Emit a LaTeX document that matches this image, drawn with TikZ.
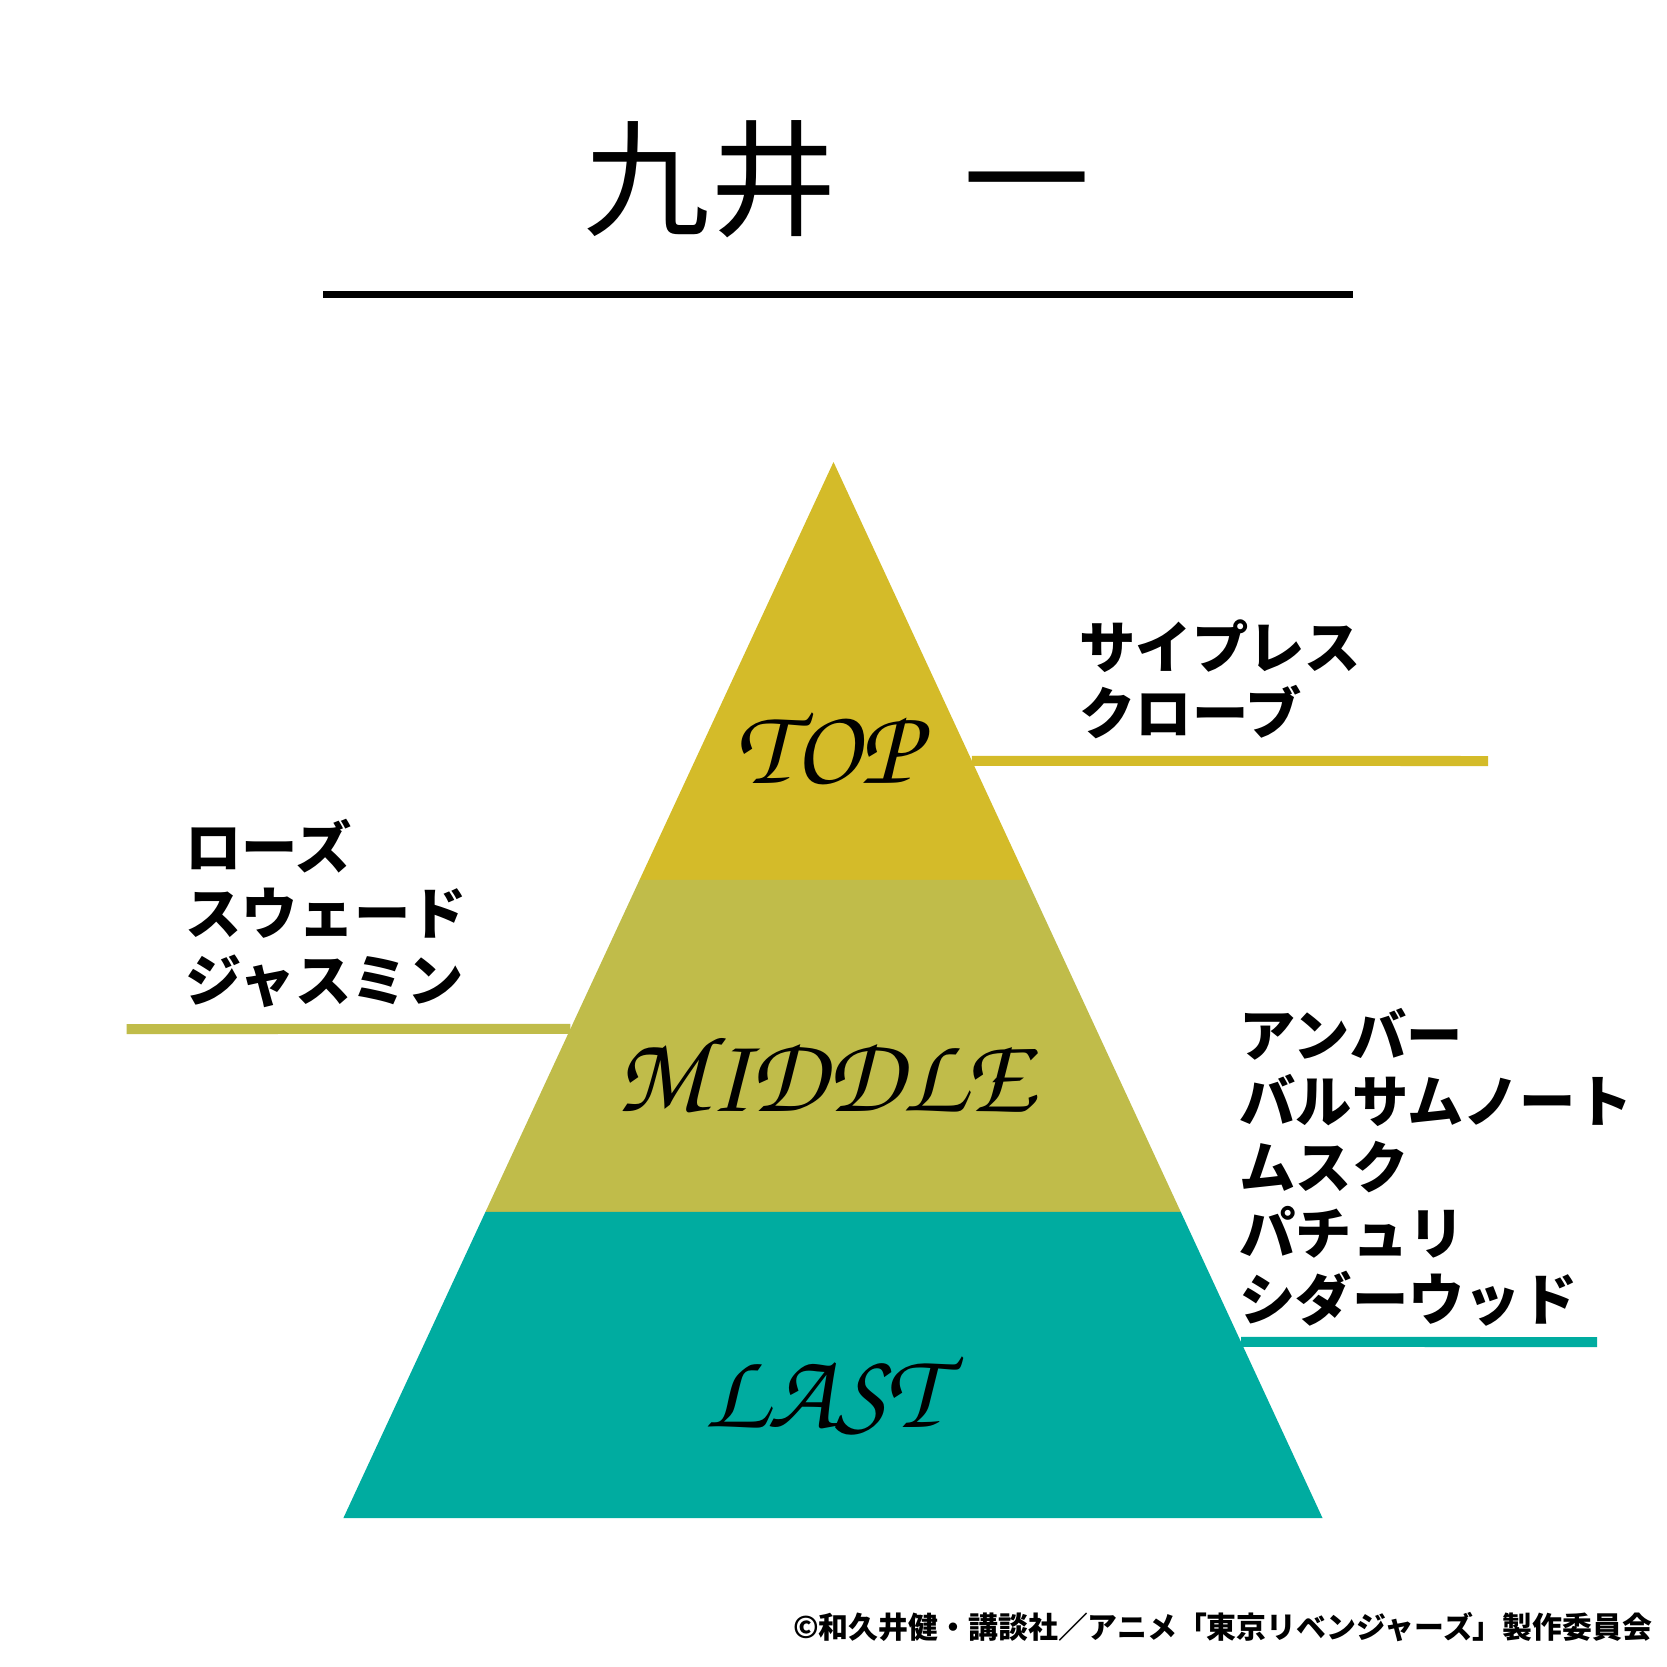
\documentclass[tikz,border=0pt]{standalone}
\usepackage{fontspec}
\usepackage[T1,TU]{fontenc}
\usetikzlibrary{calc}
\newfontfamily\jpfont{Noto Sans CJK JP}
\newcommand{\chancery}{\fontencoding{T1}\fontfamily{pzc}\fontseries{mb}\fontshape{it}\selectfont}
\definecolor{topgold}{RGB}{212,187,41}
\definecolor{midolive}{RGB}{192,188,74}
\definecolor{lastteal}{RGB}{0,172,160}

\begin{document}
\begin{tikzpicture}[x=0.01cm, y=-0.01cm,
  tier/.style={font=\chancery\fontsize{31}{33}\selectfont, inner sep=0pt, anchor=base},
  notes/.style={font=\jpfont\bfseries\fontsize{16}{18.8}\selectfont, align=left, inner sep=0pt, anchor=south west},
  leader/.style={line width=1mm}
]
  %% Canvas
  \useasboundingbox (0,0) rectangle (1667,1667);
  \fill[white] (0,0) rectangle (1667,1667);

  %% Title and rule
  \node[font=\jpfont\fontsize{36}{40}\selectfont, inner sep=0pt] (title) at (837,179) {九井　一};
  \coordinate (ruleL) at (323,294.5);
  \coordinate (ruleR) at (1353,294.5);
  \draw[line width=0.75mm] (ruleL) -- (ruleR);

  %% Pyramid corners and tier boundaries
  \coordinate (apex) at (833.5,462);
  \coordinate (bl)   at (343.4,1518);
  \coordinate (br)   at (1322.5,1518);
  \coordinate (t1l)  at ($(apex)!0.3958!(bl)$);
  \coordinate (t1r)  at ($(apex)!0.3958!(br)$);
  \coordinate (t2l)  at ($(apex)!0.7102!(bl)$);
  \coordinate (t2r)  at ($(apex)!0.7102!(br)$);

  \fill[topgold]  (apex) -- (t1r) -- (t1l) -- cycle;
  \fill[midolive] (t1l) -- (t1r) -- (t2r) -- (t2l) -- cycle;
  \fill[lastteal] (t2l) -- (t2r) -- (br) -- (bl) -- cycle;

  \node[tier] (top)    at (827,783.5) {TOP};
  \node[tier] (middle) at (825,1111)  {MIDDLE};
  \node[tier] (last)   at (822,1427)  {LAST};

  %% Leader lines
  \coordinate (topfoot)  at ($(apex)!0.2831!(br)$);
  \coordinate (topend)   at (1488,761);
  \coordinate (midfoot)  at ($(apex)!0.5369!(bl)$);
  \coordinate (midend)   at (126.5,1029);
  \coordinate (lastfoot) at ($(apex)!0.8333!(br)$);
  \coordinate (lastend)  at (1597,1342);
  \draw[leader, topgold]  (topfoot) -- (topend);
  \draw[leader, midolive] (midfoot) -- (midend);
  \draw[leader, lastteal] (lastfoot) -- (lastend);

  %% Notes
  \node[notes] (topnotes)  at (1079,740)  {サイプレス\\クローブ};
  \node[notes] (midnotes)  at (185,1008)  {ローズ\\スウェード\\ジャスミン};
  \node[notes] (lastnotes) at (1239,1327) {アンバー\\バルサムノート\\ムスク\\パチュリ\\シダーウッド};

  %% Credit
  \node[font=\jpfont\bfseries\fontsize{8.5}{10}\selectfont, inner sep=0pt, anchor=east] (credit) at (1653,1627) {©和久井健・講談社／アニメ「東京リベンジャーズ」製作委員会};
\end{tikzpicture}
\end{document}
